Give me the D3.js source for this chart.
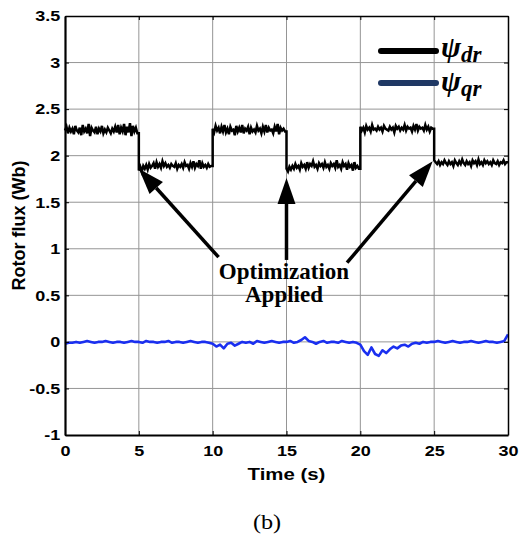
<!DOCTYPE html>
<html>
<head>
<meta charset="utf-8">
<script src="https://cdn.jsdelivr.net/npm/d3@7"></script>
<style>
  body { margin: 0; background: #fff; }
  svg { display: block; }
</style>
</head>
<body>
<svg width="520" height="540"></svg>
<script>
// switching instants (s)
const switchTimes = [0, 5, 10, 15, 20, 25, 30];
const dt = 0.1;

// psi_dr samples every 0.1 s, one array per interval
const psiDr0 = [2.27,2.31,2.24,2.30,2.26,2.29,2.23,2.32,2.27,2.25,
  2.30,2.22,2.33,2.26,2.29,2.24,2.34,2.21,2.30,2.27,
  2.25,2.31,2.23,2.29,2.26,2.32,2.24,2.28,2.25,2.30,
  2.27,2.24,2.29,2.26,2.31,2.25,2.33,2.23,2.30,2.26,
  2.34,2.22,2.31,2.25,2.35,2.21,2.32,2.26,2.30,2.24];
const psiDr1 = [1.84,1.88,1.83,1.89,1.86,1.90,1.85,1.91,1.87,1.89,
  1.92,1.86,1.93,1.88,1.91,1.87,1.94,1.89,1.92,1.88,
  1.90,1.87,1.91,1.89,1.88,1.92,1.86,1.90,1.88,1.91,
  1.87,1.93,1.89,1.90,1.86,1.92,1.88,1.94,1.87,1.91,
  1.89,1.95,1.86,1.92,1.88,1.90,1.87,1.91,1.88,1.89];
const psiDr2 = [2.29,2.25,2.32,2.27,2.30,2.24,2.31,2.26,2.33,2.25,
  2.29,2.23,2.31,2.27,2.28,2.22,2.32,2.26,2.30,2.25,
  2.33,2.24,2.29,2.27,2.31,2.23,2.30,2.26,2.28,2.25,
  2.32,2.27,2.29,2.24,2.31,2.26,2.33,2.25,2.30,2.27,
  2.28,2.24,2.31,2.26,2.34,2.23,2.30,2.27,2.29,2.26];
const psiDr3 = [1.86,1.83,1.88,1.85,1.89,1.86,1.91,1.87,1.89,1.85,
  1.92,1.88,1.90,1.86,1.93,1.87,1.91,1.89,1.94,1.88,
  1.90,1.86,1.92,1.89,1.91,1.87,1.93,1.88,1.90,1.86,
  1.92,1.89,1.91,1.87,1.95,1.88,1.90,1.86,1.93,1.89,
  1.91,1.85,1.92,1.88,1.90,1.84,1.93,1.87,1.89,1.86];
const psiDr4 = [2.31,2.27,2.30,2.25,2.32,2.28,2.30,2.26,2.33,2.28,
  2.29,2.27,2.31,2.28,2.30,2.26,2.32,2.29,2.28,2.27,
  2.31,2.28,2.30,2.25,2.32,2.29,2.31,2.27,2.30,2.28,
  2.33,2.27,2.31,2.29,2.30,2.26,2.32,2.28,2.34,2.27,
  2.31,2.29,2.30,2.27,2.33,2.28,2.31,2.26,2.30,2.29];
const psiDr5 = [1.95,1.93,1.91,1.94,1.90,1.93,1.91,1.95,1.92,1.90,
  1.94,1.91,1.93,1.89,1.95,1.92,1.90,1.94,1.91,1.96,
  1.92,1.90,1.94,1.91,1.93,1.89,1.95,1.92,1.94,1.90,
  1.96,1.91,1.93,1.90,1.95,1.92,1.94,1.91,1.93,1.90,
  1.95,1.92,1.91,1.94,1.90,1.93,1.92,1.95,1.91,1.93];
const psiDrSegments = [psiDr0, psiDr1, psiDr2, psiDr3, psiDr4, psiDr5];

// psi_qr samples every 0.25 s, 0..30 s
const qrStep = 0.25;
const psiQr = [
  -0.02,-0.01,-0.01,0.00,-0.01,0.00,0.01,0.00,-0.01,0.00,0.00,0.01,0.00,-0.01,0.00,0.00,-0.01,0.00,0.01,0.00,
  0.00,-0.01,0.01,0.00,0.00,-0.01,0.00,0.00,0.01,-0.01,0.00,0.00,-0.01,0.00,0.01,0.00,-0.01,0.00,0.00,-0.01,
  -0.02,-0.05,-0.03,-0.07,-0.02,-0.01,-0.04,-0.02,0.00,-0.01,0.00,-0.02,0.01,0.00,-0.01,0.00,0.01,0.00,-0.01,0.00,
  0.00,0.01,-0.01,0.00,0.02,0.05,0.01,0.00,-0.02,0.00,0.01,-0.01,0.00,0.00,-0.01,0.01,0.00,-0.01,0.00,-0.01,
  -0.03,-0.10,-0.14,-0.06,-0.13,-0.15,-0.09,-0.12,-0.08,-0.05,-0.07,-0.04,-0.03,-0.05,-0.02,-0.01,-0.02,0.00,-0.01,0.00,
  0.00,0.01,0.00,-0.01,0.00,0.01,0.00,-0.01,0.00,0.00,0.01,0.00,-0.01,0.00,0.01,0.00,0.00,-0.01,0.00,0.01,
  0.08];

const xTicks = [0, 5, 10, 15, 20, 25, 30];
const yTicks = [-1, -0.5, 0, 0.5, 1, 1.5, 2, 2.5, 3, 3.5];

// annotation arrows: [tail t, tail value, tip t, tip value]
const arrows = [[10.4, 0.91, 5.0, 1.86], [15.0, 0.88, 15.0, 1.76], [19.1, 0.85, 24.9, 1.94]];
const noteLines = ['Optimization', 'Applied'];

const svg = d3.select('svg');
const x = d3.scaleLinear().domain([0, 30]).range([65, 508]);
const y = d3.scaleLinear().domain([-1, 3.5]).range([435, 16]);

const sans = '"Liberation Sans", Arial, sans-serif';
const serif = '"Liberation Serif", "Times New Roman", serif';

// grid
svg.append('g')
  .selectAll('line')
  .data(xTicks.slice(1, -1))
  .join('line')
  .attr('x1', d => x(d)).attr('x2', d => x(d))
  .attr('y1', y(-1)).attr('y2', y(3.5))
  .style('stroke', '#959595').style('stroke-width', 1);
svg.append('g')
  .selectAll('line')
  .data(yTicks.slice(1, -1))
  .join('line')
  .attr('x1', x(0)).attr('x2', x(30))
  .attr('y1', d => y(d)).attr('y2', d => y(d))
  .style('stroke', '#959595').style('stroke-width', 1);

// psi_dr points with vertical steps at switching instants
const drPoints = [];
psiDrSegments.forEach((seg, k) => {
  seg.forEach((v, i) => drPoints.push([switchTimes[k] + i * dt, v]));
  drPoints.push([switchTimes[k + 1], seg[seg.length - 1]]);
});
const qrPoints = psiQr.map((v, i) => [i * qrStep, v]);

const line = d3.line().x(d => x(d[0])).y(d => y(d[1]));

svg.append('path')
  .attr('d', line(drPoints))
  .style('fill', 'none').style('stroke', '#000').style('stroke-width', 2.5);
svg.append('path')
  .attr('d', line(qrPoints))
  .style('fill', 'none').style('stroke', '#1a2ff0').style('stroke-width', 2.6)
  .style('stroke-linejoin', 'round');

// axes with inward ticks
const xAxis = svg.append('g')
  .attr('transform', `translate(0,${y(-1)})`)
  .call(d3.axisBottom(x).tickValues(xTicks).tickSize(-4).tickPadding(10).tickSizeOuter(0));
const yAxis = svg.append('g')
  .attr('transform', `translate(${x(0)},0)`)
  .call(d3.axisLeft(y).tickValues(yTicks).tickSize(-4).tickPadding(4).tickSizeOuter(0)
    .tickFormat(d => String(d)));
svg.append('g')
  .attr('transform', `translate(0,${y(3.5)})`)
  .call(d3.axisTop(x).tickValues(xTicks).tickSize(-4).tickFormat('').tickSizeOuter(0));
svg.append('g')
  .attr('transform', `translate(${x(30)},0)`)
  .call(d3.axisRight(y).tickValues(yTicks).tickSize(-4).tickFormat('').tickSizeOuter(0));

svg.selectAll('.domain').style('stroke', '#000').style('stroke-width', 1.5);
svg.selectAll('.tick line').style('stroke', '#000');
[xAxis, yAxis].forEach(a => a.selectAll('text')
  .style('font-family', sans).style('font-weight', 'bold').style('font-size', '15px')
  .style('fill', '#000')
  .attr('transform', 'scale(1.2,1)'));
xAxis.select('.domain').style('stroke-width', 2.2);
yAxis.select('.domain').style('stroke-width', 2.2);

// axis labels
svg.append('text')
  .attr('transform', `translate(${(x(0) + x(30)) / 2},480) scale(1.2,1)`)
  .style('text-anchor', 'middle')
  .style('font-family', sans).style('font-weight', 'bold').style('font-size', '17px')
  .text('Time (s)');
svg.append('text')
  .attr('transform', `translate(25,${(y(-1) + y(3.5)) / 2}) rotate(-90)`)
  .style('text-anchor', 'middle')
  .style('font-family', sans).style('font-weight', 'bold').style('font-size', '18px')
  .text('Rotor flux (Wb)');

// arrows
arrows.forEach(a => {
  const x0 = x(a[0]), y0 = y(a[1]), x1 = x(a[2]), y1 = y(a[3]);
  const ang = Math.atan2(y1 - y0, x1 - x0);
  const headLen = 26, headW = 9;
  const bx = x1 - headLen * Math.cos(ang), by = y1 - headLen * Math.sin(ang);
  svg.append('line')
    .attr('x1', x0).attr('y1', y0).attr('x2', bx).attr('y2', by)
    .style('stroke', '#000').style('stroke-width', 3.5);
  svg.append('path')
    .attr('d', `M${x1},${y1}L${bx - headW * Math.sin(ang)},${by + headW * Math.cos(ang)}` +
      `L${bx + headW * Math.sin(ang)},${by - headW * Math.cos(ang)}Z`)
    .style('fill', '#000');
});

svg.append('g')
  .selectAll('text')
  .data(noteLines)
  .join('text')
  .attr('x', 284)
  .attr('y', (d, i) => 279 + i * 23)
  .style('text-anchor', 'middle')
  .style('font-family', serif).style('font-weight', 'bold').style('font-size', '23px')
  .text(d => d);

// legend
const legendItems = [['dr', '#000', 51, 57], ['qr', '#1f3864', 83, 91]];
legendItems.forEach(([sub, col, ly, ty]) => {
  svg.append('line')
    .attr('x1', 381).attr('x2', 436).attr('y1', ly).attr('y2', ly)
    .style('stroke', col).style('stroke-width', 6).style('stroke-linecap', 'round');
  const t = svg.append('text')
    .attr('x', 441).attr('y', ty)
    .style('font-family', serif).style('font-weight', 'bold').style('font-style', 'italic')
    .style('font-size', '30px')
    .text('\u03C8');
  t.append('tspan').attr('dy', 5).style('font-size', '23px').text(sub);
});

// caption
svg.append('text')
  .attr('transform', 'translate(267,529) scale(1.1,1)')
  .style('text-anchor', 'middle')
  .style('font-family', serif).style('font-size', '22px')
  .text('(b)');
</script>
</body>
</html>
